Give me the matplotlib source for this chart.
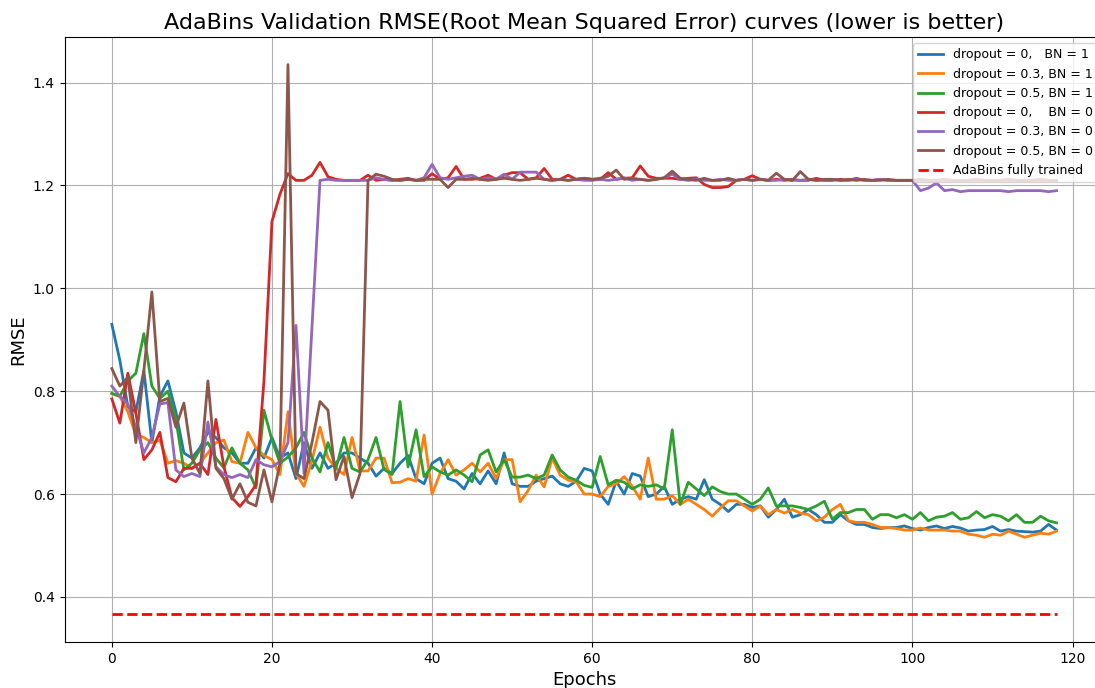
import matplotlib
matplotlib.use("Agg")
import matplotlib.pyplot as plt
import numpy as np

# epochs 0..118
epochs = list(range(119))

# dropout = 0, BN = 1
rmse_d0_bn1 = [0.93, 0.86, 0.77, 0.76, 0.84, 0.70, 0.79, 0.82, 0.76, 0.68,
               0.67, 0.69, 0.72, 0.71, 0.69, 0.68, 0.66, 0.66, 0.69, 0.67,
               0.71, 0.67, 0.68, 0.63, 0.70, 0.65, 0.68, 0.65, 0.66, 0.68,
               0.68, 0.67, 0.66, 0.635, 0.65, 0.64, 0.66, 0.675, 0.63, 0.62,
               0.66, 0.67, 0.63, 0.625, 0.61, 0.64, 0.62, 0.645, 0.62, 0.68,
               0.62, 0.615, 0.615, 0.625, 0.63, 0.635, 0.62, 0.615, 0.625, 0.65,
               0.645, 0.60, 0.58, 0.625, 0.60, 0.64, 0.635, 0.595, 0.60, 0.615,
               0.58, 0.59, 0.595, 0.59, 0.628, 0.59, 0.58, 0.566, 0.58, 0.58,
               0.574, 0.577, 0.555, 0.57, 0.59, 0.555, 0.56, 0.57, 0.56, 0.545,
               0.545, 0.56, 0.548, 0.541, 0.541, 0.535, 0.533, 0.535, 0.535, 0.538,
               0.533, 0.53, 0.535, 0.538, 0.533, 0.537, 0.534, 0.528, 0.53, 0.531,
               0.537, 0.528, 0.531, 0.528, 0.527, 0.526, 0.528, 0.541, 0.53]

# dropout = 0.3, BN = 1
rmse_d03_bn1 = [0.795, 0.79, 0.76, 0.715, 0.71, 0.70, 0.705, 0.66, 0.665, 0.66,
                0.65, 0.66, 0.68, 0.70, 0.705, 0.663, 0.66, 0.72, 0.69, 0.675,
                0.667, 0.638, 0.76, 0.64, 0.615, 0.665, 0.73, 0.67, 0.65, 0.638,
                0.71, 0.645, 0.645, 0.67, 0.67, 0.622, 0.623, 0.63, 0.625, 0.715,
                0.60, 0.64, 0.667, 0.637, 0.647, 0.66, 0.643, 0.66, 0.63, 0.667,
                0.667, 0.585, 0.607, 0.637, 0.614, 0.67, 0.637, 0.627, 0.624, 0.60,
                0.60, 0.595, 0.615, 0.62, 0.634, 0.615, 0.59, 0.67, 0.59, 0.59,
                0.597, 0.58, 0.59, 0.58, 0.57, 0.557, 0.573, 0.587, 0.587, 0.577,
                0.567, 0.577, 0.56, 0.57, 0.563, 0.57, 0.563, 0.56, 0.548, 0.555,
                0.57, 0.58, 0.548, 0.545, 0.545, 0.541, 0.535, 0.535, 0.533, 0.53,
                0.53, 0.534, 0.53, 0.53, 0.53, 0.528, 0.528, 0.522, 0.52, 0.516,
                0.522, 0.52, 0.528, 0.522, 0.516, 0.52, 0.524, 0.522, 0.528]

# dropout = 0.5, BN = 1
rmse_d05_bn1 = [0.796, 0.79, 0.82, 0.835, 0.912, 0.81, 0.786, 0.80, 0.745, 0.647,
                0.66, 0.686, 0.70, 0.67, 0.651, 0.69, 0.66, 0.647, 0.612, 0.763,
                0.705, 0.66, 0.672, 0.69, 0.72, 0.67, 0.643, 0.70, 0.65, 0.71,
                0.65, 0.643, 0.667, 0.71, 0.648, 0.638, 0.78, 0.653, 0.725, 0.634,
                0.653, 0.643, 0.637, 0.647, 0.637, 0.624, 0.676, 0.686, 0.643, 0.667,
                0.633, 0.633, 0.637, 0.63, 0.637, 0.676, 0.647, 0.633, 0.627, 0.617,
                0.613, 0.673, 0.618, 0.627, 0.623, 0.61, 0.618, 0.615, 0.618, 0.61,
                0.725, 0.58, 0.623, 0.61, 0.597, 0.614, 0.605, 0.60, 0.60, 0.59,
                0.58, 0.59, 0.612, 0.577, 0.577, 0.577, 0.574, 0.57, 0.577, 0.586,
                0.551, 0.564, 0.564, 0.57, 0.57, 0.551, 0.56, 0.56, 0.554, 0.56,
                0.551, 0.564, 0.548, 0.555, 0.557, 0.564, 0.551, 0.554, 0.566, 0.554,
                0.56, 0.557, 0.548, 0.56, 0.545, 0.545, 0.557, 0.548, 0.544]

# dropout = 0, BN = 0
rmse_d0_bn0 = [0.785, 0.738, 0.835, 0.757, 0.667, 0.686, 0.72, 0.632, 0.624, 0.65,
               0.65, 0.66, 0.638, 0.745, 0.653, 0.593, 0.576, 0.595, 0.618, 0.82,
               1.13, 1.183, 1.223, 1.21, 1.21, 1.22, 1.245, 1.217, 1.212, 1.21,
               1.21, 1.21, 1.22, 1.21, 1.212, 1.21, 1.212, 1.214, 1.21, 1.21,
               1.223, 1.212, 1.215, 1.237, 1.212, 1.212, 1.214, 1.22, 1.212, 1.22,
               1.225, 1.225, 1.212, 1.215, 1.233, 1.212, 1.212, 1.22, 1.212, 1.214,
               1.212, 1.212, 1.225, 1.212, 1.214, 1.215, 1.238, 1.218, 1.214, 1.214,
               1.214, 1.212, 1.214, 1.215, 1.202, 1.196, 1.196, 1.198, 1.21, 1.212,
               1.219, 1.212, 1.21, 1.212, 1.21, 1.212, 1.21, 1.21, 1.214, 1.21,
               1.21, 1.212, 1.21, 1.214, 1.21, 1.21, 1.212, 1.21, 1.21, 1.21,
               1.21, 1.212, 1.21, 1.21, 1.212, 1.21, 1.21, 1.21, 1.212, 1.21,
               1.21, 1.21, 1.212, 1.21, 1.21, 1.21, 1.212, 1.21, 1.21]

# dropout = 0.3, BN = 0
rmse_d03_bn0 = [0.81, 0.79, 0.775, 0.73, 0.68, 0.71, 0.775, 0.778, 0.647, 0.634,
                0.64, 0.634, 0.74, 0.653, 0.638, 0.632, 0.638, 0.632, 0.667, 0.657,
                0.653, 0.663, 0.70, 0.928, 0.64, 0.925, 1.21, 1.212, 1.21, 1.21,
                1.21, 1.21, 1.21, 1.215, 1.212, 1.21, 1.21, 1.212, 1.21, 1.215,
                1.241, 1.215, 1.212, 1.215, 1.218, 1.22, 1.212, 1.215, 1.212, 1.222,
                1.212, 1.226, 1.226, 1.226, 1.212, 1.21, 1.212, 1.21, 1.212, 1.21,
                1.21, 1.212, 1.21, 1.212, 1.215, 1.21, 1.212, 1.21, 1.212, 1.215,
                1.222, 1.212, 1.21, 1.212, 1.21, 1.21, 1.212, 1.21, 1.21, 1.212,
                1.21, 1.212, 1.21, 1.21, 1.212, 1.21, 1.21, 1.212, 1.21, 1.21,
                1.212, 1.21, 1.21, 1.212, 1.21, 1.21, 1.212, 1.21, 1.21, 1.21,
                1.21, 1.19, 1.195, 1.205, 1.19, 1.192, 1.188, 1.19, 1.19, 1.19,
                1.19, 1.19, 1.188, 1.19, 1.19, 1.19, 1.19, 1.188, 1.19]

# dropout = 0.5, BN = 0
rmse_d05_bn0 = [0.844, 0.81, 0.827, 0.70, 0.84, 0.993, 0.78, 0.786, 0.73, 0.777,
                0.67, 0.64, 0.82, 0.65, 0.63, 0.59, 0.62, 0.584, 0.577, 0.647,
                0.585, 0.66, 1.435, 0.64, 0.63, 0.70, 0.78, 0.763, 0.628, 0.673,
                0.593, 0.64, 1.21, 1.222, 1.218, 1.212, 1.21, 1.212, 1.21, 1.212,
                1.212, 1.212, 1.196, 1.212, 1.212, 1.214, 1.212, 1.21, 1.212, 1.214,
                1.212, 1.21, 1.212, 1.214, 1.212, 1.21, 1.212, 1.21, 1.212, 1.214,
                1.212, 1.214, 1.218, 1.23, 1.212, 1.214, 1.212, 1.21, 1.212, 1.215,
                1.228, 1.214, 1.212, 1.21, 1.214, 1.21, 1.21, 1.214, 1.21, 1.212,
                1.21, 1.212, 1.21, 1.224, 1.212, 1.21, 1.227, 1.212, 1.21, 1.212,
                1.212, 1.21, 1.212, 1.21, 1.212, 1.21, 1.21, 1.212, 1.21, 1.21,
                1.21, 1.21, 1.21, 1.21, 1.21, 1.21, 1.21, 1.21, 1.21, 1.21,
                1.21, 1.21, 1.21, 1.21, 1.21, 1.21, 1.21, 1.21, 1.21]

adabins_full = 0.366

labels = ["dropout = 0,   BN = 1", "dropout = 0.3, BN = 1", "dropout = 0.5, BN = 1",
          "dropout = 0,    BN = 0", "dropout = 0.3, BN = 0", "dropout = 0.5, BN = 0"]
series = [rmse_d0_bn1, rmse_d03_bn1, rmse_d05_bn1, rmse_d0_bn0, rmse_d03_bn0, rmse_d05_bn0]

fig, ax = plt.subplots(figsize=(10.95, 6.88), dpi=100)
for vals, lab in zip(series, labels):
    ax.plot(epochs, vals, linewidth=2, label=lab)
ax.plot(epochs, [adabins_full] * len(epochs), 'r--', linewidth=2, label="AdaBins fully trained")

ax.set_title("AdaBins Validation RMSE(Root Mean Squared Error) curves (lower is better)", fontsize=16)
ax.set_xlabel("Epochs", fontsize=13)
ax.set_ylabel("RMSE", fontsize=13)
ax.tick_params(labelsize=10)
ax.grid(True)
ax.legend(loc="upper right", fontsize=9)
# the original image is cropped just left of the right spine
plt.subplots_adjust(left=0.059, right=1.008, top=0.946, bottom=0.067)
plt.savefig("out.png")
